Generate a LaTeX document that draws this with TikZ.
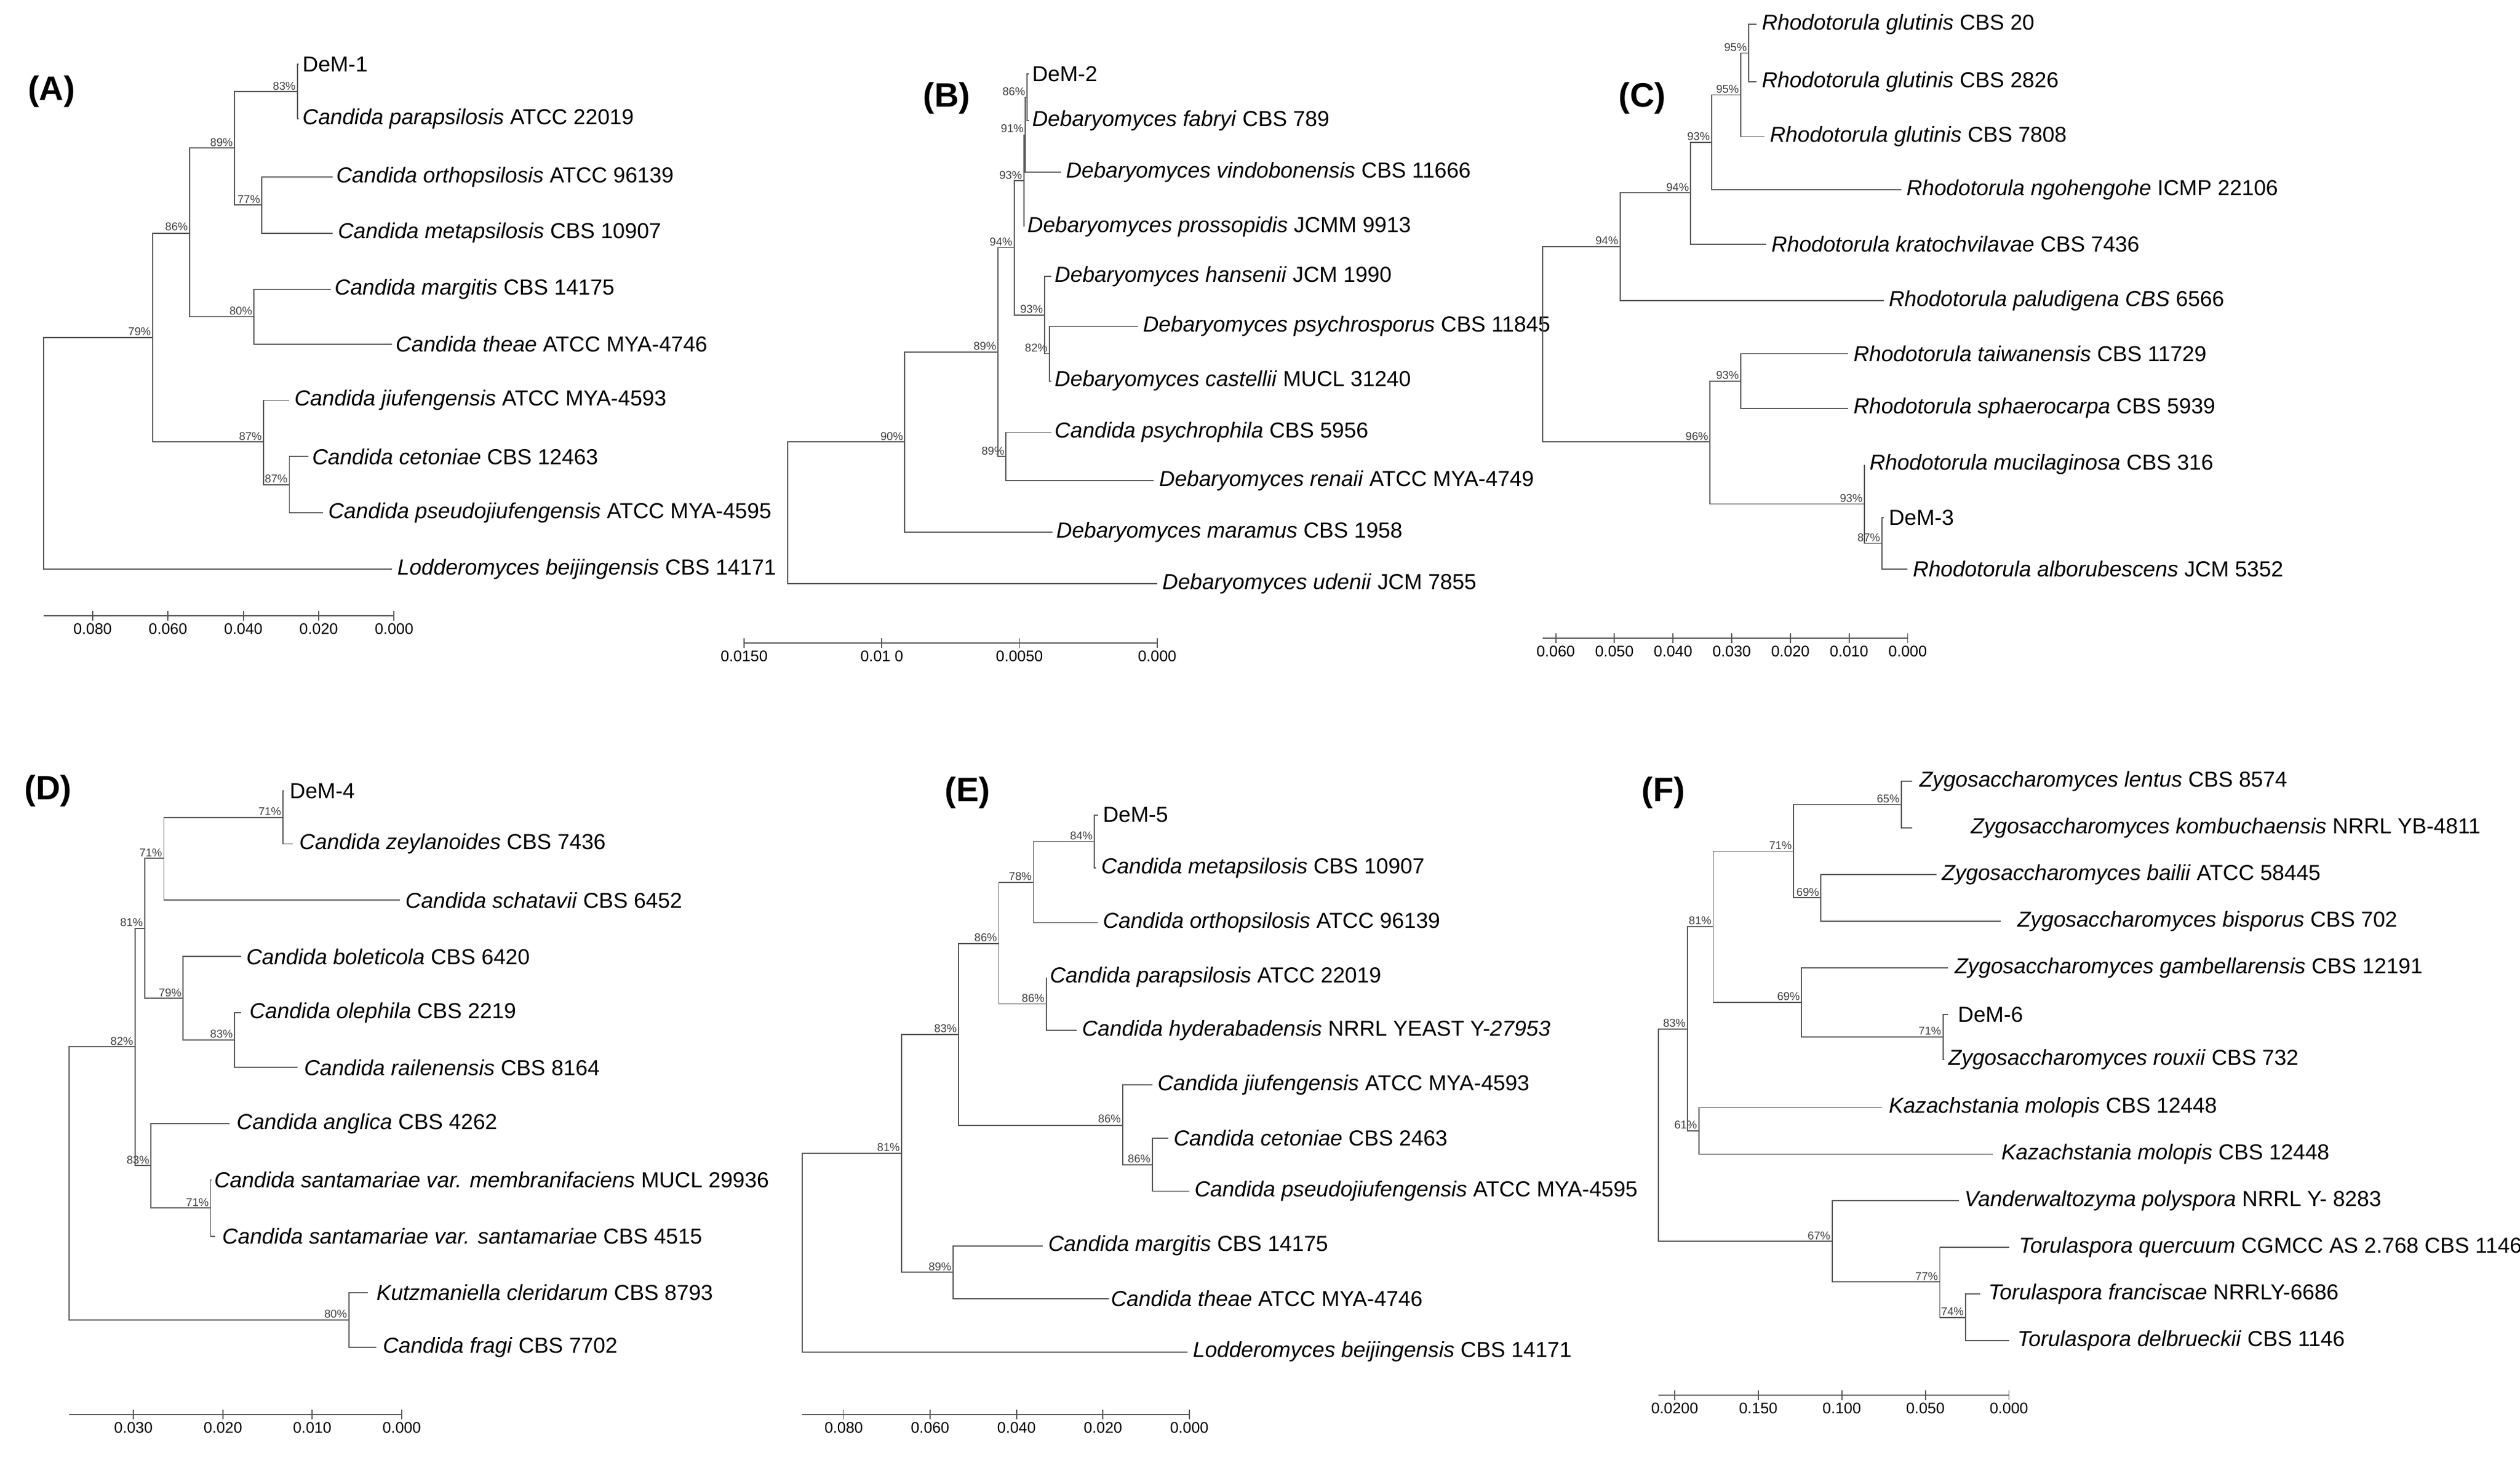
\documentclass[tikz,border=0pt]{standalone}
\usepackage{fontspec}
\setmainfont{Liberation Sans}
\tikzset{
  branch/.style={draw=black!65, line width=0.5pt},
  leaf/.style={anchor=west, inner sep=0pt, font=\fontsize{9.6}{11}\selectfont},
  boot/.style={anchor=south east, inner sep=0.6pt, text=black!75, font=\fontsize{5}{5}\selectfont},
  tick/.style={anchor=north, inner sep=1pt, font=\fontsize{6.8}{7}\selectfont},
  panel/.style={font=\fontsize{15}{16}\selectfont\bfseries}
}
% one bracket: name, x, y1, tip1, y2, tip2, support
\newcommand\clade[7]{%
  \draw[branch] (#4,#3) -- (#2,#3) -- (#2,#5) -- (#6,#5);
  \node[boot] (#1) at (#2,{(#3+#5)/2}) {#7};}
\begin{document}
\begin{tikzpicture}[x=0.025cm, y=-0.025cm]
\useasboundingbox (0,0) rectangle (1568,908);

%% (A)
\node[panel] (pA) at (32,57) {(A)};
\foreach \y/\t/\n [count=\i] in {40/188/DeM-1, 74/188/{\textit{Candida parapsilosis} ATCC 22019},
  110/209/{\textit{Candida orthopsilosis} ATCC 96139}, 145/210/{\textit{Candida metapsilosis} CBS 10907},
  180/208/{\textit{Candida margitis} CBS 14175}, 214/246/{\textit{Candida theae} ATCC MYA-4746},
  249/183/{\textit{Candida jiufengensis} ATCC MYA-4593}, 284/194/{\textit{Candida cetoniae} CBS 12463},
  319/204/{\textit{Candida pseudojiufengensis} ATCC MYA-4595}, 354/247/{\textit{Lodderomyces beijingensis} CBS 14171}}{
  \node[leaf] (A\i) at (\t,\y) {\n};
}
\clade{Aa}{185}{40}{186}{74}{186}{83\%}
\clade{Ab}{163}{110}{207}{145}{207}{77\%}
\clade{Ac}{146}{57}{185}{127.5}{163}{89\%}
\clade{Ad}{158}{180}{206}{214}{244}{80\%}
\clade{Ae}{118}{92}{146}{197}{158}{86\%}
\clade{Af}{180}{284}{192}{319}{201}{87\%}
\clade{Ag}{164}{249}{180}{301.5}{180}{87\%}
\clade{Ah}{95}{145}{118}{275}{164}{79\%}
\draw[branch] (95,210) -- (27,210) -- (27,354) -- (244,354);
\draw[branch] (27,383) -- (245,383);
\foreach \x/\l in {57.6/0.080, 104.5/0.060, 151.4/0.040, 198.3/0.020, 245.2/0.000}{
  \draw[branch] (\x,380) -- (\x,386);
  \node[tick] at (\x,386) {\l};
}

%% (B)
\node[panel] (pB) at (589,61) {(B)};
\foreach \y/\t/\n [count=\i] in {46/642/DeM-2, 75/642/{\textit{Debaryomyces fabryi} CBS 789},
  107/663/{\textit{Debaryomyces vindobonensis} CBS 11666}, 141/639/{\textit{Debaryomyces prossopidis} JCMM 9913},
  172/656/{\textit{Debaryomyces hansenii} JCM 1990}, 203/711/{\textit{Debaryomyces psychrosporus} CBS 11845},
  237/656/{\textit{Debaryomyces castellii} MUCL 31240}, 269/656/{\textit{Candida psychrophila} CBS 5956},
  299/721/{\textit{Debaryomyces renaii} ATCC MYA-4749}, 331/657/{\textit{Debaryomyces maramus} CBS 1958},
  363/723/{\textit{Debaryomyces udenii} JCM 7855}}{
  \node[leaf] (B\i) at (\t,\y) {\n};
}
\clade{Ba}{639}{46}{640}{75}{640}{86\%}
\clade{Bb}{638}{60.5}{639}{107}{660}{91\%}
\clade{Bc}{637}{84}{638}{141}{637}{93\%}
\clade{Bd}{653}{203}{708}{237}{654}{82\%}
\clade{Be}{650}{172}{654}{220}{653}{93\%}
\clade{Bf}{631}{112.5}{637}{196}{650}{94\%}
\clade{Bg}{626}{269}{654}{299}{718}{89\%}
\clade{Bh}{621}{154}{631}{284}{626}{89\%}
\clade{Bi}{563}{219}{621}{331}{655}{90\%}
\draw[branch] (563,275) -- (490,275) -- (490,363) -- (720,363);
\draw[branch] (463,400) -- (720,400);
\foreach \x/\l in {463/0.0150, 548.7/0.01 0, 634.3/0.0050, 720/0.000}{
  \draw[branch] (\x,397) -- (\x,403);
  \node[tick] at (\x,403) {\l};
}

%% (C)
\node[panel] (pC) at (1022,61) {(C)};
\foreach \y/\t/\n [count=\i] in {15/1096/{\textit{Rhodotorula glutinis} CBS 20}, 51/1096/{\textit{Rhodotorula glutinis} CBS 2826},
  85/1101/{\textit{Rhodotorula glutinis} CBS 7808}, 118/1186/{\textit{Rhodotorula ngohengohe} ICMP 22106},
  152/1102/{\textit{Rhodotorula kratochvilavae} CBS 7436}, 187/1175/{\textit{Rhodotorula paludigena CBS} 6566},
  220/1153/{\textit{Rhodotorula taiwanensis} CBS 11729}, 254/1153/{\textit{Rhodotorula sphaerocarpa} CBS 5939},
  289/1163/{\textit{Rhodotorula mucilaginosa} CBS 316}, 322/1175/DeM-3,
  354/1190/{\textit{Rhodotorula alborubescens} JCM 5352}}{
  \node[leaf] (C\i) at (\t,\y) {\n};
}
\clade{Ca}{1088}{15}{1093}{51}{1093}{95\%}
\clade{Cb}{1083}{33}{1088}{85}{1098}{95\%}
\clade{Cc}{1065}{59}{1083}{118}{1183}{93\%}
\clade{Cd}{1052}{88.5}{1065}{152}{1099}{94\%}
\clade{Ce}{1008}{120}{1052}{187}{1172}{94\%}
\clade{Cf}{1083}{220}{1150}{254}{1150}{93\%}
\clade{Cg}{1171}{322}{1172}{354}{1187}{87\%}
\clade{Ch}{1160}{289}{1160}{338}{1171}{93\%}
\clade{Ci}{1064}{237}{1083}{313.5}{1160}{96\%}
\draw[branch] (1008,153.5) -- (960,153.5) -- (960,275) -- (1064,275);
\draw[branch] (960,397) -- (1187,397);
\foreach \x/\l [count=\k] in {968/0.060, 1004.5/0.050, 1041/0.040, 1077.5/0.030, 1114/0.020, 1150.5/0.010, 1187/0.000}{
  \draw[branch] (\x,394) -- (\x,400);
  \node[tick] at (\x,400) {\l};
}

%% (D)
\node[panel] (pD) at (30,492) {(D)};
\foreach \y/\t/\n [count=\i] in {492/180/DeM-4, 525/186/{\textit{Candida zeylanoides} CBS 7436},
  560/252/{\textit{Candida schatavii} CBS 6452}, 595/153/{\textit{Candida boleticola} CBS 6420},
  630/155/{\textit{Candida olephila} CBS 2219}, 664/189/{\textit{Candida railenensis} CBS 8164},
  699/147/{\textit{Candida anglica} CBS 4262}, 734/133/{\textit{Candida santamariae var. membranifaciens} MUCL 29936},
  769/138/{\textit{Candida santamariae var. santamariae} CBS 4515}, 804/234/{\textit{Kutzmaniella cleridarum} CBS 8793},
  838/238/{\textit{Candida fragi} CBS 7702}}{
  \node[leaf] (D\i) at (\t,\y) {\n};
}
\clade{Da}{176}{492}{177}{525}{182}{71\%}
\clade{Db}{102}{508.5}{176}{560}{249}{71\%}
\clade{Dc}{146}{630}{150}{664}{185}{83\%}
\clade{Dd}{114}{595}{150}{647}{146}{79\%}
\clade{De}{90}{534}{102}{621}{114}{81\%}
\clade{Df}{131}{734}{131.5}{769}{134}{71\%}
\clade{Dg}{94}{699}{143}{751.5}{131}{83\%}
\clade{Dh}{84}{577.5}{90}{725}{94}{82\%}
\clade{Di}{217}{804}{229}{838}{234}{80\%}
\draw[branch] (84,651) -- (43,651) -- (43,821) -- (217,821);
\draw[branch] (43,880) -- (250,880);
\foreach \x/\l in {83/0.030, 138.7/0.020, 194.3/0.010, 250/0.000}{
  \draw[branch] (\x,877) -- (\x,883);
  \node[tick] at (\x,883) {\l};
}

%% (E)
\node[panel] (pE) at (602,493) {(E)};
\foreach \y/\t/\n [count=\i] in {507/686/DeM-5, 540/685/{\textit{Candida metapsilosis} CBS 10907},
  574/686/{\textit{Candida orthopsilosis} ATCC 96139}, 608/653/{\textit{Candida parapsilosis} ATCC 22019},
  641/673/{\textit{Candida hyderabadensis} NRRL YEAST Y-\textit{27953}}, 675/720/{\textit{Candida jiufengensis} ATCC MYA-4593},
  708/730/{\textit{Candida cetoniae} CBS 2463}, 741/743/{\textit{Candida pseudojiufengensis} ATCC MYA-4595},
  775/652/{\textit{Candida margitis} CBS 14175}, 808/691/{\textit{Candida theae} ATCC MYA-4746},
  841/742/{\textit{Lodderomyces beijingensis} CBS 14171}}{
  \node[leaf] (E\i) at (\t,\y) {\n};
}
\clade{Ea}{681}{507}{683}{540}{682}{84\%}
\clade{Eb}{643}{523.5}{681}{574}{683}{78\%}
\clade{Ec}{651}{608}{651}{641}{670}{86\%}
\clade{Ed}{621.5}{549}{643}{624.5}{651}{86\%}
\clade{Ee}{717}{708}{727}{741}{740}{86\%}
\clade{Ef}{698.5}{675}{717}{724.5}{717}{86\%}
\clade{Eg}{596.5}{587}{621.5}{700}{698.5}{83\%}
\clade{Eh}{593}{775}{649}{808}{690}{89\%}
\clade{Ei}{561}{643.5}{596.5}{791.5}{593}{81\%}
\draw[branch] (561,717.5) -- (499,717.5) -- (499,841) -- (739,841);
\draw[branch] (499,880) -- (740,880);
\foreach \x/\l in {525/0.080, 578.75/0.060, 632.5/0.040, 686.25/0.020, 740/0.000}{
  \draw[branch] (\x,877) -- (\x,883);
  \node[tick] at (\x,883) {\l};
}

%% (F)
\node[panel] (pF) at (1035,493) {(F)};
\foreach \y/\t/\n [count=\i] in {486/1194/{\textit{Zygosaccharomyces lentus} CBS 8574},
  515/1226/{\textit{Zygosaccharomyces kombuchaensis} NRRL YB-4811}, 544/1208/{\textit{Zygosaccharomyces bailii} ATCC 58445},
  573/1255/{\textit{Zygosaccharomyces bisporus} CBS 702}, 602/1216/{\textit{Zygosaccharomyces gambellarensis} CBS 12191},
  631/1218/DeM-6, 659/1212/{\textit{Zygosaccharomyces rouxii} CBS 732},
  689/1175/{\textit{Kazachstania molopis} CBS 12448}, 718/1245/{\textit{Kazachstania molopis} CBS 12448},
  747/1222/{\textit{Vanderwaltozyma polyspora} NRRL Y- 8283}, 776/1256/{\textit{Torulaspora quercuum} CGMCC AS 2.768 CBS 1146},
  805/1237/{\textit{Torulaspora franciscae} NRRLY-6686}, 834/1255/{\textit{Torulaspora delbrueckii} CBS 1146}}{
  \node[leaf] (F\i) at (\t,\y) {\n};
}
\clade{Fa}{1183}{486}{1190}{515}{1190}{65\%}
\clade{Fb}{1133}{544}{1205}{573}{1245}{69\%}
\clade{Fc}{1116}{500.5}{1183}{558.5}{1133}{71\%}
\clade{Fd}{1209}{631}{1212}{659}{1210}{71\%}
\clade{Fe}{1121}{602}{1212}{645}{1209}{69\%}
\clade{Ff}{1066}{529.5}{1116}{623.5}{1121}{81\%}
\clade{Fg}{1057}{689}{1171}{718}{1240}{61\%}
\clade{Fh}{1050}{576.5}{1066}{703.5}{1057}{83\%}
\clade{Fi}{1223}{805}{1232}{834}{1250}{74\%}
\clade{Fj}{1207}{776}{1250}{819.5}{1223}{77\%}
\clade{Fk}{1140}{747}{1219}{797.5}{1207}{67\%}
\draw[branch] (1050,640) -- (1032,640) -- (1032,772) -- (1140,772);
\draw[branch] (1032,868) -- (1250,868);
\foreach \x/\l in {1042/0.0200, 1094/0.150, 1146/0.100, 1198/0.050, 1250/0.000}{
  \draw[branch] (\x,865) -- (\x,871);
  \node[tick] at (\x,871) {\l};
}
\end{tikzpicture}
\end{document}
